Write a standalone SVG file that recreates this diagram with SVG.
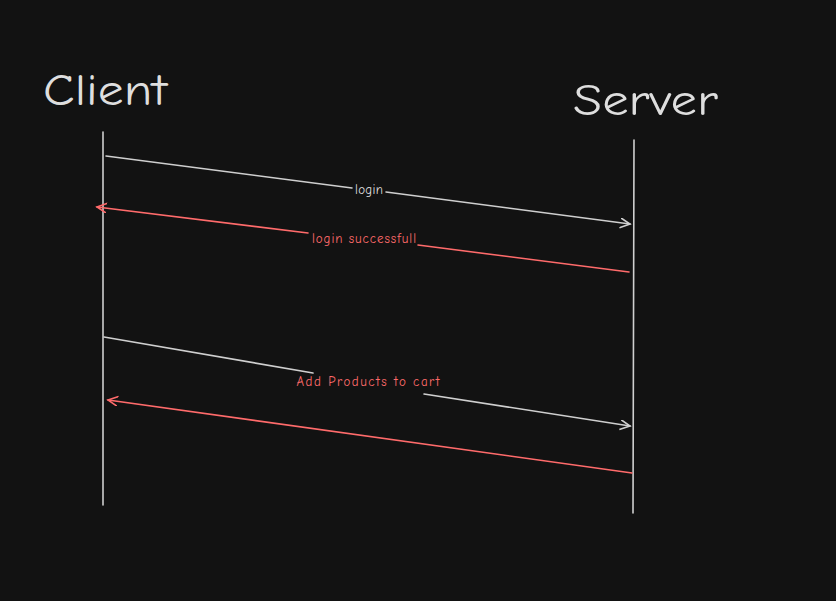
<svg xmlns="http://www.w3.org/2000/svg" width="836" height="601" viewBox="0 0 836 601">
<style>
.t{font-family:"Comic Neue","Liberation Sans",sans-serif;}
.title{font-size:44px;fill:#dedede;}
.lbl{font-size:13px;text-anchor:middle;}
.g{stroke:#cfcfcf;stroke-width:1.6;fill:none;stroke-linecap:round}
.r{stroke:#ff6b6b;stroke-width:1.6;fill:none;stroke-linecap:round}
</style>
<defs>
<marker id="ag" markerWidth="12" markerHeight="12" refX="10" refY="5" orient="auto" markerUnits="userSpaceOnUse"><path d="M0,0 L10,5 L0,10" fill="none" stroke="#cfcfcf" stroke-width="1.6"/></marker>
<marker id="ar" markerWidth="12" markerHeight="12" refX="10" refY="5" orient="auto" markerUnits="userSpaceOnUse"><path d="M0,0 L10,5 L0,10" fill="none" stroke="#ff6b6b" stroke-width="1.6"/></marker>
</defs>
<rect width="836" height="601" fill="#121212"/>
<g id="client"><text class="t title" x="43" y="105" textLength="124" lengthAdjust="spacingAndGlyphs">Client</text><line class="g" x1="103" y1="132" x2="103" y2="505"/></g>
<g id="server"><text class="t title" x="573" y="115" textLength="145" lengthAdjust="spacingAndGlyphs">Server</text><line class="g" x1="634" y1="140" x2="633" y2="513"/></g>
<g id="connectors">
<path class="g" d="M106,156 L352,188 M386,192 L630,224" marker-end="url(#ag)"/>
<text class="t lbl" x="369" y="194" fill="#dedede" textLength="28">login</text>
<path class="r" d="M629,272 L418,245 M308,233 L97,207" marker-end="url(#ar)"/>
<text class="t lbl" x="364" y="243" fill="#ff6b6b" textLength="104">login successfull</text>
<path class="g" d="M104,337 L313,373 M424,394 L630,426" marker-end="url(#ag)"/>
<text class="t lbl" x="368" y="386" fill="#ff6b6b" textLength="143">Add Products to cart</text>
<path class="r" d="M632,473 L108,400" marker-end="url(#ar)"/>
</g>
</svg>
